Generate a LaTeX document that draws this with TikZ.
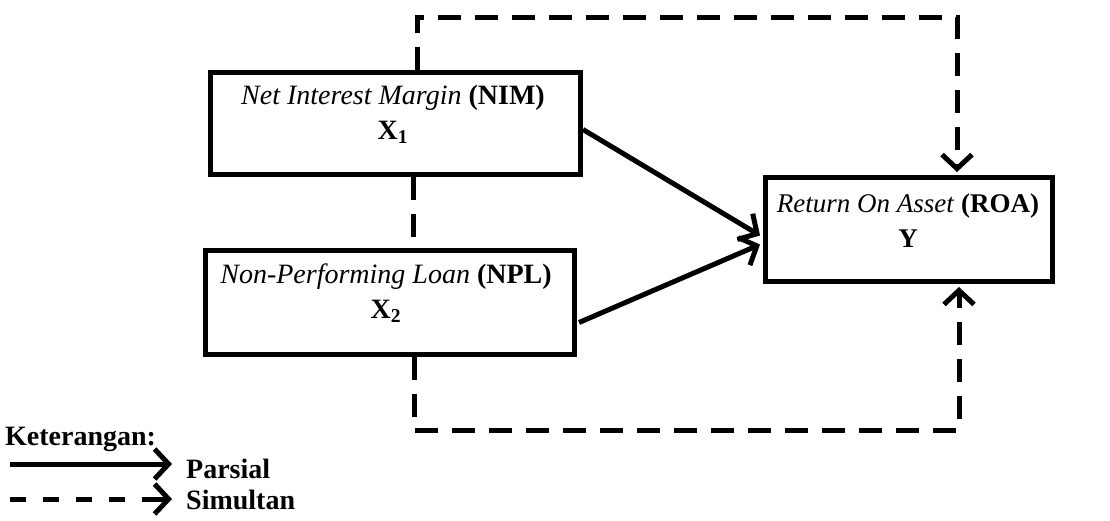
\documentclass[tikz,border=0pt]{standalone}
\usepackage{fontspec}
\setmainfont{Liberation Serif}
\usetikzlibrary{arrows.meta}
\tikzset{
  box/.style={draw, line width=5pt, rectangle, inner sep=0pt, anchor=north west},
  txt/.style={align=center, inner sep=0pt, font=\fontsize{28}{35}\selectfont},
  tip/.style={-{Straight Barb[length=14pt,width=30pt,line width=5pt]}},
  solidarrow/.style={line width=5pt, tip},
  dashline/.style={line width=5pt, dash pattern=on 23pt off 14pt},
  dasharrow/.style={dashline, tip},
  legtxt/.style={inner sep=0pt, font=\fontsize{28}{30}\selectfont\bfseries},
}
\begin{document}
\begin{tikzpicture}[x=1pt,y=-1pt]
\useasboundingbox (0,0) rectangle (1110,520);
% boxes
\node[box, minimum width=370pt, minimum height=102pt] (nim) at (208,70) {};
\node[box, minimum width=369pt, minimum height=104pt] (npl) at (203,248) {};
\node[box, minimum width=287pt, minimum height=104pt] (roa) at (763,175) {};
% texts
\node[txt] (nimt) at (393,114) {\textit{Net Interest Margin} \textbf{(NIM)}\\\textbf{X\textsubscript{1}}};
\node[txt] (nplt) at (386,293) {\textit{Non-Performing Loan} \textbf{(NPL)}\\\textbf{X\textsubscript{2}}};
\node[txt, font=\fontsize{27}{35}\selectfont] (roat) at (908,221) {\textit{Return On Asset} \textbf{(ROA)}\\\textbf{Y}};
% coordinates for dashed routing
\coordinate (t1) at (417,17);
\coordinate (t2) at (957,17);
\coordinate (b1) at (414,430);
\coordinate (b2) at (959,430);
\coordinate (m1) at (413,0);
% solid arrows
\draw[solidarrow] ([yshift=-6pt]nim.east) -- ([shift={(-3pt,-6pt)}]roa.west);
\draw[solidarrow] ([shift={(2pt,-20pt)}]npl.east) -- ([shift={(-3pt,-15pt)}]roa.west);
% dashed simultaneous
\draw[dashline] (nim.south -| m1) -- (npl.north -| m1);
\draw[dasharrow] (nim.north -| t1) -- (t1) -- (t2) -- ([yshift=3pt]roa.north -| t2);
\draw[dasharrow] (npl.south -| b1) -- (b1) -- (b2) -- ([yshift=-3pt]roa.south -| b2);
% legend
\node[legtxt, anchor=base west] (ket) at (5,445) {Keterangan:};
\coordinate (l1a) at (10,464);
\coordinate (l1b) at (172,464);
\coordinate (l2a) at (10,499);
\coordinate (l2c) at (126,499);
\coordinate (l2d) at (142,499);
\coordinate (l2b) at (172,499);
\draw[solidarrow] (l1a) -- (l1b);
\draw[dashline, dash pattern=on 16pt off 17pt] (l2a) -- (l2c);
\draw[solidarrow] (l2d) -- (l2b);
\node[legtxt, anchor=west] (pars) at (186,469) {Parsial};
\node[legtxt, anchor=west] (simu) at (186,500) {Simultan};
\end{tikzpicture}
\end{document}
